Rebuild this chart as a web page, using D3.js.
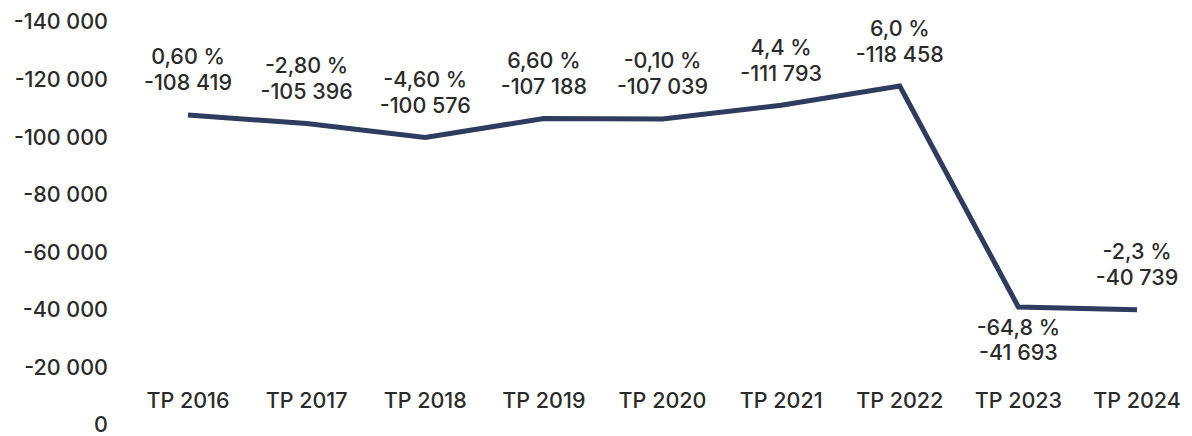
<!DOCTYPE html>
<html>
<head>
<meta charset="utf-8">
<script src="https://cdn.jsdelivr.net/npm/d3@7"></script>
<style>
  body { margin: 0; background: #fff; }
  text { font-family: Inter, "Open Sans", sans-serif; fill: #2b2b2b; font-weight: 500; }
</style>
</head>
<body>
<div id="chart"></div>
<script>
// data
const years = ["TP 2016", "TP 2017", "TP 2018", "TP 2019", "TP 2020", "TP 2021", "TP 2022", "TP 2023", "TP 2024"];
const values = [-108419, -105396, -100576, -107188, -107039, -111793, -118458, -41693, -40739];
const changes = ["0,60 %", "-2,80 %", "-4,60 %", "6,60 %", "-0,10 %", "4,4 %", "6,0 %", "-64,8 %", "-2,3 %"];
const yTicks = [0, -20000, -40000, -60000, -80000, -100000, -120000, -140000];

const width = 1192, height = 436;
const fs = 21.5;

const svg = d3.select("#chart")
  .append("svg")
  .attr("width", width)
  .attr("height", height);

const loc = d3.formatLocale({ decimal: ",", thousands: " ", grouping: [3], currency: ["", ""], minus: "-" });
const fmt = loc.format(",d");

// y runs from 0 at the bottom to -140 000 at the top
const y = d3.scaleLinear().domain([0, -140000]).range([425, 22]);
const x = d3.scalePoint().domain(years).range([188, 1137]);

// y axis, labels only
const yAxis = svg.append("g")
  .attr("transform", "translate(108,0)")
  .call(d3.axisLeft(y).tickValues(yTicks).tickSize(0).tickPadding(0).tickFormat(fmt));
yAxis.select(".domain").remove();
yAxis.selectAll("text")
  .style("font-family", "Inter, sans-serif")
  .style("font-weight", 500)
  .attr("font-size", fs)
  .attr("fill", "#2b2b2b");

// x labels
svg.append("g")
  .selectAll("text")
  .data(years)
  .join("text")
  .attr("x", d => x(d))
  .attr("y", 400)
  .attr("dy", "0.35em")
  .attr("text-anchor", "middle")
  .attr("font-size", fs)
  .text(d => d);

const line = d3.line()
  .x((d, i) => x(years[i]))
  .y(d => y(d) + 2);

svg.append("path")
  .datum(values)
  .attr("fill", "none")
  .attr("stroke", "#2e3c60")
  .attr("stroke-width", 5)
  .attr("stroke-linejoin", "miter")
  .attr("d", line);

// value labels: above the point, except TP 2023 which sits below
const lab = svg.append("g")
  .selectAll("g")
  .data(values)
  .join("g")
  .attr("transform", (d, i) => {
    const below = years[i] === "TP 2023";
    const top = below ? y(d) + 22 : y(d) - 56;
    return `translate(${x(years[i])},${top})`;
  });

lab.append("text")
  .attr("text-anchor", "middle")
  .attr("dy", "0.35em")
  .attr("font-size", fs)
  .text((d, i) => changes[i]);

lab.append("text")
  .attr("text-anchor", "middle")
  .attr("y", 26)
  .attr("dy", "0.35em")
  .attr("font-size", fs)
  .text(d => fmt(d));
</script>
</body>
</html>
